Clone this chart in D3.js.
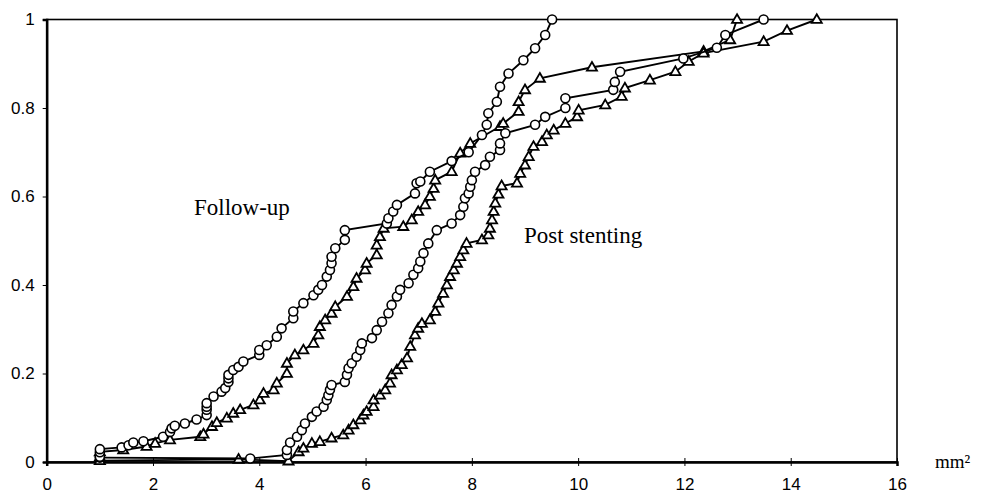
<!DOCTYPE html>
<html>
<head>
<meta charset="utf-8">
<script src="https://cdn.jsdelivr.net/npm/d3@7/dist/d3.min.js"></script>
<style>
  body { margin: 0; background: #fff; }
  svg { display: block; }
  .tick text { font-family: "Liberation Sans", Arial, sans-serif; font-size: 17px; fill: #000; }
  .note { font-family: "Liberation Serif", "Times New Roman", serif; fill: #000; }
</style>
</head>
<body>
<div id="chart"></div>
<script>
// cumulative distributions: [mm², fraction]
const followUpCircles = [
  [1.0,0.012],[1.0,0.022],[1.0,0.029],[1.41,0.033],[1.54,0.038],[1.63,0.044],[1.82,0.047],[2.19,0.057],[2.32,0.068],[2.35,0.076],
  [2.41,0.082],[2.60,0.087],[2.82,0.096],[3.01,0.106],[3.01,0.118],[3.01,0.125],[3.01,0.133],[3.14,0.148],
  [3.29,0.159],[3.36,0.167],[3.42,0.181],[3.42,0.189],[3.42,0.197],[3.51,0.208],[3.61,0.215],[3.70,0.227],
  [4.0,0.242],[4.0,0.253],[4.14,0.264],[4.33,0.283],[4.42,0.302],[4.64,0.325],[4.64,0.34],[4.83,0.359],
  [5.02,0.377],[5.11,0.389],[5.18,0.40],[5.27,0.419],[5.33,0.434],[5.36,0.449],[5.36,0.464],[5.43,0.483],
  [5.61,0.502],[5.61,0.524],[6.40,0.539],[6.43,0.551],[6.52,0.566],[6.59,0.581],[6.93,0.607],[6.96,0.63],
  [7.03,0.634],[7.21,0.656],[7.62,0.68],[7.94,0.70],[8.19,0.739],[8.28,0.762],[8.31,0.788],[8.47,0.814],
  [8.53,0.848],[8.69,0.878],[8.97,0.908],[9.19,0.935],[9.38,0.965],[9.51,1.0]
];
const followUpTriangles = [
  [1.0,0.011],[1.0,0.023],[1.44,0.027],[1.88,0.035],[2.04,0.042],[2.32,0.050],[2.89,0.057],[2.95,0.063],[3.11,0.080],
  [3.2,0.089],[3.39,0.099],[3.51,0.11],[3.64,0.118],[3.89,0.129],[4.01,0.14],[4.08,0.155],[4.27,0.163],
  [4.33,0.178],[4.52,0.20],[4.52,0.223],[4.67,0.242],[4.83,0.253],[5.02,0.268],[5.11,0.287],[5.14,0.306],
  [5.24,0.321],[5.36,0.336],[5.43,0.351],[5.65,0.374],[5.77,0.396],[5.83,0.415],[5.99,0.434],[6.02,0.449],
  [6.21,0.468],[6.21,0.49],[6.27,0.509],[6.34,0.528],[6.71,0.532],[6.87,0.547],[6.99,0.566],[7.12,0.581],
  [7.21,0.60],[7.28,0.618],[7.31,0.637],[7.62,0.656],[7.78,0.698],[7.97,0.72],[8.53,0.758],[8.59,0.765],
  [8.88,0.792],[8.88,0.814],[9.0,0.841],[9.28,0.867],[10.26,0.892],[12.36,0.928],[12.86,0.954],[12.99,1.0]
];
const postCircles = [
  [1.0,0.01],[3.83,0.008],[4.52,0.016],[4.52,0.027],[4.58,0.044],[4.71,0.057],[4.80,0.072],[4.86,0.087],
  [4.99,0.102],[5.08,0.114],[5.21,0.125],[5.27,0.14],[5.30,0.151],[5.33,0.163],[5.36,0.174],[5.61,0.181],
  [5.65,0.197],[5.68,0.212],[5.74,0.223],[5.83,0.238],[5.90,0.253],[5.93,0.268],[6.12,0.28],[6.21,0.298],
  [6.31,0.317],[6.43,0.336],[6.49,0.355],[6.59,0.374],[6.65,0.389],[6.81,0.404],[6.90,0.423],[6.99,0.438],
  [7.03,0.453],[7.09,0.472],[7.18,0.494],[7.34,0.524],[7.62,0.539],[7.78,0.558],[7.84,0.577],[7.87,0.596],
  [7.94,0.607],[7.97,0.622],[8.0,0.637],[8.06,0.656],[8.25,0.671],[8.34,0.69],[8.53,0.705],[8.53,0.72],
  [8.63,0.743],[9.19,0.762],[9.38,0.78],[9.76,0.80],[9.76,0.822],[10.66,0.841],[10.69,0.859],[10.79,0.882],
  [11.98,0.912],[12.61,0.936],[12.77,0.965],[13.49,1.0]
];
const postTriangles = [
  [1.0,0.003],[3.61,0.006],[4.55,0.002],[4.74,0.023],[4.83,0.031],[4.99,0.042],[5.14,0.046],[5.36,0.054],
  [5.58,0.061],[5.68,0.072],[5.77,0.084],[5.90,0.095],[5.96,0.106],[6.02,0.114],[6.15,0.125],[6.15,0.14],
  [6.27,0.151],[6.37,0.163],[6.46,0.178],[6.49,0.197],[6.59,0.208],[6.68,0.22],[6.78,0.235],[6.84,0.261],
  [6.93,0.287],[6.99,0.302],[7.06,0.313],[7.21,0.321],[7.31,0.34],[7.37,0.359],[7.46,0.381],[7.53,0.40],
  [7.59,0.419],[7.66,0.434],[7.72,0.449],[7.78,0.464],[7.84,0.479],[7.90,0.494],[8.19,0.502],[8.31,0.513],
  [8.34,0.528],[8.38,0.547],[8.41,0.566],[8.44,0.585],[8.50,0.605],[8.56,0.624],[8.85,0.63],[8.91,0.652],
  [9.0,0.671],[9.07,0.69],[9.16,0.713],[9.32,0.724],[9.41,0.739],[9.54,0.75],[9.76,0.765],[9.98,0.78],
  [10.01,0.795],[10.51,0.807],[10.82,0.826],[10.88,0.845],[11.35,0.863],[11.83,0.882],[12.08,0.905],
  [12.36,0.924],[13.49,0.95],[13.93,0.975],[14.49,1.0]
];
const xTicks = [0, 2, 4, 6, 8, 10, 12, 14, 16];
const yTicks = [0, 0.2, 0.4, 0.6, 0.8, 1];

const width = 988, height = 494;
const plot = { left: 46.7, right: 897, top: 19.5, bottom: 462 };

const svg = d3.select('#chart')
  .append('svg')
  .attr('width', width)
  .attr('height', height);

svg.append('rect').attr('width', width).attr('height', height).attr('fill', '#fff');

const x = d3.scaleLinear().domain([0, 16]).range([plot.left, plot.right]);
const y = d3.scaleLinear().domain([0, 1]).range([plot.bottom, plot.top]);

// frame (top / right thinner)
svg.append('rect')
  .attr('x', plot.left).attr('y', plot.top)
  .attr('width', plot.right - plot.left).attr('height', plot.bottom - plot.top)
  .attr('fill', 'none').attr('stroke', '#000').attr('stroke-width', 1.6);

// x axis, ticks crossing the line
const xAxis = svg.append('g')
  .attr('transform', `translate(0,${plot.bottom})`)
  .call(d3.axisBottom(x).tickValues(xTicks).tickFormat(d3.format('d')).tickSize(4).tickPadding(12));
xAxis.select('.domain').attr('stroke-width', 2.5);
xAxis.selectAll('.tick line').attr('y1', -4).attr('stroke-width', 1);

const yAxis = svg.append('g')
  .attr('transform', `translate(${plot.left},0)`)
  .call(d3.axisLeft(y).tickValues(yTicks).tickFormat(d => d === 0 || d === 1 ? d : d3.format('.1f')(d)).tickSize(4).tickPadding(8));
yAxis.select('.domain').attr('stroke-width', 2.5);
yAxis.selectAll('.tick line').attr('stroke-width', 1);

const line = d3.line().x(d => x(d[0])).y(d => y(d[1]));

const series = [
  { data: followUpTriangles, shape: 'tri' },
  { data: postTriangles, shape: 'tri' },
  { data: postCircles, shape: 'circ' },
  { data: followUpCircles, shape: 'circ' }
];

const triPath = d3.symbol().type(d3.symbolTriangle).size(44)();

series.forEach(s => {
  svg.append('path')
    .datum(s.data)
    .attr('d', line)
    .attr('fill', 'none')
    .attr('stroke', '#000')
    .attr('stroke-width', 1.9);

  const g = svg.append('g');
  if (s.shape === 'circ') {
    g.selectAll('circle')
      .data(s.data)
      .join('circle')
      .attr('cx', d => x(d[0]))
      .attr('cy', d => y(d[1]))
      .attr('r', 4.5)
      .attr('fill', '#fff')
      .attr('stroke', '#000')
      .attr('stroke-width', 1.6);
  } else {
    g.selectAll('path')
      .data(s.data)
      .join('path')
      .attr('d', triPath)
      .attr('transform', d => `translate(${x(d[0])},${y(d[1]) + 0.5})`)
      .attr('fill', '#fff')
      .attr('stroke', '#000')
      .attr('stroke-width', 1.8);
  }
});

svg.append('text').attr('class', 'note')
  .attr('x', 194).attr('y', 215)
  .style('font-size', '23px')
  .text('Follow-up');

svg.append('text').attr('class', 'note')
  .attr('x', 524).attr('y', 243)
  .style('font-size', '23px')
  .text('Post stenting');

svg.append('text').attr('class', 'note')
  .attr('x', 935).attr('y', 468)
  .style('font-size', '19px')
  .text('mm²');
</script>
</body>
</html>
